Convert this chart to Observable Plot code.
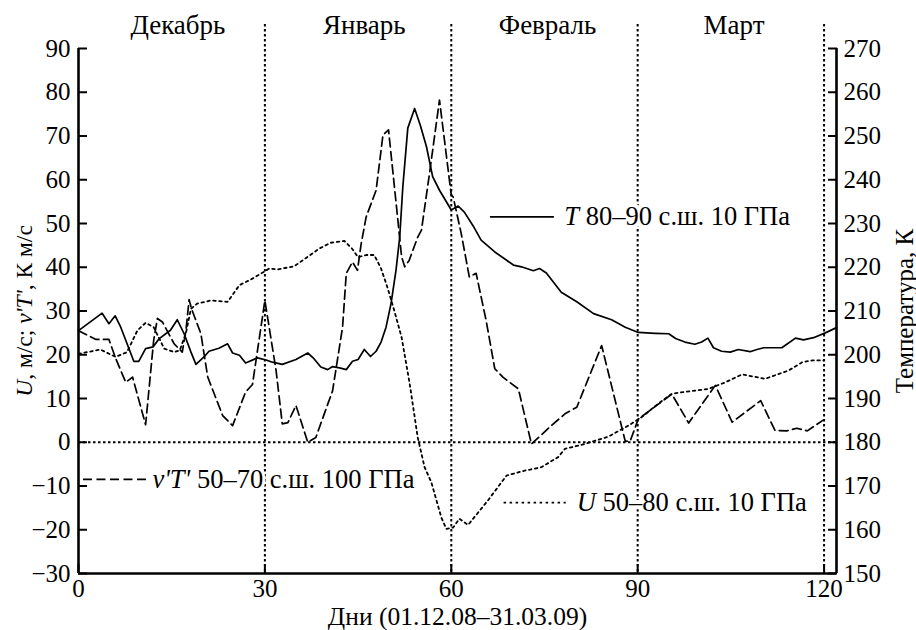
<!DOCTYPE html>
<html><head><meta charset="utf-8">
<script src="https://cdn.jsdelivr.net/npm/d3@7"></script>
<script src="https://cdn.jsdelivr.net/npm/@observablehq/plot@0.6"></script>
<style>body{margin:0;background:#fff} #chart{width:916px;height:630px} #chart svg, #chart svg text{font-family:"Liberation Serif","Times New Roman","DejaVu Serif",serif !important;}</style>
</head><body><div id="chart"></div>
<script>
// ---- Data ----
const monthNames = ["Декабрь", "Январь", "Февраль", "Март"];
const monthCenters = [16, 46, 75.5, 105.5];
const monthBounds = [30, 60, 90, 120];
const xTicks = [0, 30, 60, 90, 120];
const yTicks = [-30, -20, -10, 0, 10, 20, 30, 40, 50, 60, 70, 80, 90];
const tempOffset = 180; // right axis (K) = left axis + 180

// T 80–90 N, 10 hPa (K, right axis)
const tDays = [0, 3.8, 4.9, 5.9, 6.8, 8.9, 9.7, 10.8, 12, 13, 14.8, 15.9, 17, 18.1, 18.9, 20.2, 21, 22.6, 24, 24.8, 25.9, 26.9, 28.8, 30.2, 31.2, 32.8, 35, 36.9, 37.9, 39, 40.1, 40.9, 42, 43.1, 44.1, 45, 46, 47, 47.9, 48.7, 49.5, 50.3, 51.1, 51.7, 52.2, 53, 54.1, 55, 56, 57, 58.1, 60, 61.1, 62.1, 63.5, 64.8, 67, 70, 71.3, 73.2, 74.2, 75.3, 77.7, 80.2, 82.9, 85.8, 88, 90.1, 92.8, 95, 96.1, 97.6, 99.2, 100.3, 101.3, 102.2, 103.5, 104.9, 106.2, 108.1, 109.2, 110.3, 113.2, 114, 115.4, 116.7, 118.3, 120.2, 122];
const tTempK = [205.5, 209.5, 207.1, 208.9, 206.3, 198.5, 198.5, 201.4, 201.8, 203.7, 205.6, 208.0, 204.8, 200.6, 197.8, 199.5, 200.8, 201.5, 202.5, 200.4, 199.9, 198.1, 199.3, 198.8, 198.3, 197.8, 198.9, 200.4, 199.1, 197.2, 196.6, 197.3, 197.0, 196.6, 198.5, 198.9, 201.2, 199.6, 200.8, 202.9, 206.3, 211.7, 219.3, 226.9, 238.4, 251.8, 256.3, 252.5, 247.6, 240.7, 237.6, 233.1, 234.0, 232.6, 229.5, 226.2, 223.5, 220.5, 220.1, 219.2, 219.7, 218.7, 214.3, 212.1, 209.4, 208.0, 206.3, 205.1, 204.9, 204.8, 203.7, 202.9, 202.4, 202.9, 203.8, 201.6, 200.8, 200.6, 201.2, 200.7, 201.2, 201.6, 201.6, 202.4, 203.8, 203.4, 203.9, 205.0, 206.2];

// v'T' 50–70 N, 100 hPa (K m/s, left axis)
const vtDays = [0, 2.8, 4.9, 6, 7.6, 8.7, 10.8, 12.1, 12.7, 13.5, 15.4, 16.7, 17.3, 17.8, 18.2, 19.7, 20.8, 23.2, 24.8, 26.9, 28, 30, 31.8, 32.8, 33.7, 35, 36.9, 38.2, 40.9, 42.5, 43.1, 44.1, 44.9, 45.5, 46.3, 47.9, 49, 49.9, 51.4, 52, 52.5, 53.2, 54.6, 55.2, 56.5, 58.1, 60, 60.3, 61.6, 62.9, 64, 65.6, 67, 68.3, 70.8, 72.9, 76.1, 78.3, 80.2, 84.2, 88, 88.8, 90.1, 95.5, 98.2, 102.5, 105.2, 109.8, 112.1, 114, 115.6, 117.3, 119.8];
const vtVals = [25.5, 23.5, 23.5, 19.1, 13.7, 14.9, 4.0, 23.3, 28.3, 27.5, 22.5, 20.6, 25.6, 32.6, 30.5, 24.8, 14.9, 6.1, 3.8, 11.5, 13.2, 32.4, 16.4, 4.2, 4.5, 8.4, 0, 1.1, 11.8, 26.3, 38.6, 41.2, 39.3, 45.4, 51.5, 57.6, 70.2, 71.4, 50.8, 42.4, 40.1, 41.5, 46.9, 48.5, 61.5, 78.2, 56.5, 56.1, 47.7, 37.8, 38.6, 27.9, 16.8, 14.9, 12.2, -0.4, 3.8, 6.5, 8.0, 22.1, 0.2, 0.3, 5.3, 11.0, 4.4, 13.0, 4.6, 9.5, 2.7, 2.6, 3.2, 2.6, 5.0];

// U 50–80 N, 10 hPa (m/s, left axis)
const uDays = [0, 3.5, 6, 7.8, 9.5, 10.8, 12.1, 13.8, 15.4, 16.3, 17.3, 18.1, 19.1, 21.3, 24, 25.9, 28, 30.7, 32, 34.7, 38.8, 40.6, 42.8, 44, 45, 46.3, 47.6, 48.7, 49.7, 50.8, 52, 53.3, 54.6, 55.7, 56.8, 58.4, 59.2, 60.3, 61.3, 62.7, 65.9, 68.9, 71.8, 74.5, 77.2, 78.3, 81.5, 85.3, 88.5, 90.6, 93.3, 95.5, 97.6, 101.4, 104.1, 106.8, 110.5, 114.3, 116.5, 118.1, 119.9];
const uVals = [20.2, 21.2, 19.5, 20.6, 25.6, 27.3, 26.3, 21.4, 20.6, 21.0, 25.0, 30.5, 31.7, 32.4, 32.1, 35.9, 37.4, 39.7, 39.5, 40.2, 44.3, 45.6, 46.0, 44.3, 42.3, 42.8, 42.8, 39.7, 35.5, 30.2, 24.0, 13.4, 1.1, -5.7, -9.2, -17.2, -19.8, -19.5, -17.5, -18.9, -13.3, -7.6, -6.5, -5.7, -3.4, -1.5, -0.4, 1.3, 3.8, 5.7, 8.8, 11.1, 11.5, 12.2, 13.7, 15.5, 14.5, 16.4, 18.3, 18.7, 18.7];

const legendT = "<i>T</i> 80–90 с.ш. 10 ГПа";
const legendVT = "<i>v'T'</i> 50–70 с.ш. 100 ГПа";
const legendU = "<i>U</i> 50–80 с.ш. 10 ГПа";
const yLabelLeft = "<i>U</i>, м/с; <i>v'T'</i>, К м/с";
const yLabelRight = "Температура, К";
const xLabel = "Дни (01.12.08–31.03.09)";

// ---- Build tables ----
const tRows = tDays.map((d, i) => ({day: d, v: tTempK[i] - tempOffset}));
const vtRows = vtDays.map((d, i) => ({day: d, v: vtVals[i]}));
const uRows = uDays.map((d, i) => ({day: d, v: uVals[i]}));
const months = monthNames.map((m, i) => ({name: m, x: monthCenters[i]}));

const FONT = "'Liberation Serif', 'Times New Roman', serif";
const FS = 25;      // tick labels
const FM = 27;      // month labels
const FL = 26.5;    // legend texts
const FTL = 23.5;   // left rotated axis title
const FTR = 25;     // right rotated axis title
const FX = 25.5;    // x axis title
const dotted = "2.5,2.5";

const chart = Plot.plot({
  width: 916, height: 630,
  marginLeft: 78, marginRight: 80, marginTop: 48, marginBottom: 57,
  style: {fontFamily: FONT, fontSize: FS + "px", background: "white", color: "black", overflow: "visible"},
  x: {domain: [0, 122]},
  y: {domain: [-30, 90]},
  marks: [
    Plot.ruleY([0], {stroke: "black", strokeWidth: 2, strokeDasharray: dotted}),
    Plot.ruleX(monthBounds, {stroke: "black", strokeWidth: 2, strokeDasharray: dotted, insetTop: -24}),
    Plot.line(uRows, {x: "day", y: "v", stroke: "black", strokeWidth: 1.8, strokeDasharray: "2.5,3.5"}),
    Plot.line(vtRows, {x: "day", y: "v", stroke: "black", strokeWidth: 1.7, strokeDasharray: "9,4.5"}),
    Plot.line(tRows, {x: "day", y: "v", stroke: "black", strokeWidth: 1.7}),
    // axes
    Plot.ruleX([0], {stroke: "black", strokeWidth: 2.6}),
    Plot.ruleX([122], {stroke: "black", strokeWidth: 2.6}),
    Plot.ruleY([-30], {stroke: "black", strokeWidth: 2.6}),
    Plot.axisY(yTicks, {anchor: "left", tickSize: -9, tickPadding: 17, strokeWidth: 2, fontSize: FS, label: null}),
    Plot.axisY(yTicks, {anchor: "right", tickSize: -9, tickPadding: 16, strokeWidth: 2, fontSize: FS, label: null, tickFormat: d => d + tempOffset}),
    Plot.axisX(xTicks, {anchor: "bottom", tickSize: -9, tickPadding: 15, strokeWidth: 2, fontSize: FS, label: null}),
    // month labels
    Plot.text(months, {x: "x", text: "name", frameAnchor: "top", lineAnchor: "bottom", dy: -15, fontSize: FM}),
    // axis titles
    Plot.text([yLabelLeft], {text: d => d, frameAnchor: "left", textAnchor: "middle", rotate: -90, dx: -54, fontSize: FTL, className: "rich"}),
    Plot.text([yLabelRight], {text: d => d, frameAnchor: "right", textAnchor: "middle", rotate: -90, dx: 68, fontSize: FTR}),
    Plot.text([xLabel], {text: d => d, frameAnchor: "bottom", lineAnchor: "bottom", dy: 51.5, fontSize: FX}),
    // legends
    Plot.ruleY([51.5], {x1: 66.3, x2: 76.6, stroke: "black", strokeWidth: 1.7}),
    Plot.text([legendT], {text: d => d, x: 78.2, y: 51.5, textAnchor: "start", fontSize: FL, stroke: "white", strokeWidth: 8, fill: "black", className: "rich"}),
    Plot.ruleY([-8.5], {x1: 0.8, x2: 11.6, stroke: "black", strokeWidth: 1.7, strokeDasharray: "9,4.5"}),
    Plot.text([legendVT], {text: d => d, x: 11.9, y: -8.5, textAnchor: "start", fontSize: FL, stroke: "white", strokeWidth: 6, fill: "black", className: "rich"}),
    Plot.ruleY([-13.8], {x1: 68.5, x2: 78.5, stroke: "black", strokeWidth: 1.8, strokeDasharray: "2.5,3.5"}),
    Plot.text([legendU], {text: d => d, x: 80.2, y: -13.8, textAnchor: "start", fontSize: FL, stroke: "white", strokeWidth: 8, fill: "black", className: "rich"})
  ]
});

function richify(svg) {
  svg.querySelectorAll("text, tspan").forEach(el => {
    for (const node of Array.from(el.childNodes)) {
      if (node.nodeType === 3 && node.nodeValue.includes("<i>")) {
        const parts = node.nodeValue.split(/(<i>.*?<\/i>)/);
        const frag = document.createDocumentFragment();
        for (const p of parts) {
          if (!p) continue;
          const ts = document.createElementNS("http://www.w3.org/2000/svg", "tspan");
          if (p.startsWith("<i>")) { ts.setAttribute("font-style", "italic"); ts.textContent = p.slice(3, -4); }
          else ts.textContent = p;
          frag.appendChild(ts);
        }
        el.replaceChild(frag, node);
      }
    }
  });
}
richify(chart);
document.getElementById("chart").appendChild(chart);
</script>
</body></html>
